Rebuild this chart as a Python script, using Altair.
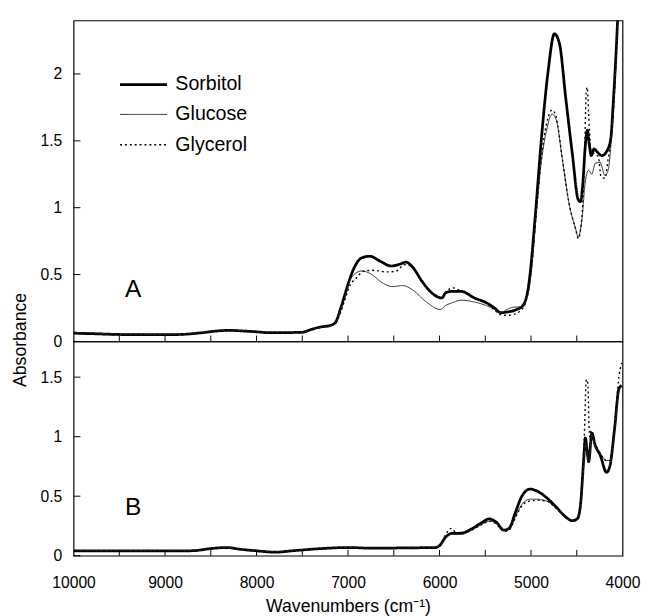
import altair as alt
import pandas as pd

SERIES = ["Sorbitol", "Glucose", "Glycerol"]

# ---------------- Panel A ----------------
a_sorbitol_wn = [10000, 9800, 9500, 9200, 9000, 8800, 8600, 8400, 8300, 8150, 8000, 7850, 7700, 7508,
                 7400, 7300, 7200, 7140, 7080, 7030, 6991, 6920, 6850, 6760, 6650, 6528, 6440, 6367,
                 6296, 6189, 6082, 5975, 5930, 5868, 5761, 5619, 5476, 5400, 5331, 5260, 5153, 5100,
                 5064, 5030, 5011, 4957, 4886, 4815, 4744, 4690, 4619, 4548, 4484, 4459, 4434, 4406,
                 4384, 4363, 4342, 4310, 4281, 4228, 4174, 4128, 4100, 4075, 4054, 4030]
a_sorbitol_ab = [0.062, 0.058, 0.052, 0.050, 0.050, 0.053, 0.065, 0.080, 0.083, 0.078, 0.072, 0.065, 0.066, 0.068,
                 0.090, 0.108, 0.118, 0.140, 0.250, 0.360, 0.447, 0.569, 0.625, 0.637, 0.600, 0.564, 0.576, 0.593,
                 0.557, 0.447, 0.361, 0.325, 0.365, 0.374, 0.374, 0.325, 0.285, 0.250, 0.215, 0.220, 0.240, 0.260,
                 0.300, 0.400, 0.500, 0.910, 1.520, 2.010, 2.300, 2.230, 1.810, 1.400, 1.060, 1.045, 1.180, 1.470,
                 1.580, 1.470, 1.390, 1.440, 1.420, 1.390, 1.420, 1.520, 1.800, 2.100, 2.400, 2.800]

a_glucose_wn = [10000, 9800, 9500, 9000, 8800, 8600, 8400, 8300, 8150, 8000, 7850, 7700, 7508,
                7400, 7300, 7200, 7140, 7080, 7030, 6991, 6920, 6848, 6759, 6617, 6510, 6403, 6296,
                6153, 5993, 5930, 5868, 5761, 5619, 5476, 5400, 5331, 5260, 5200, 5117, 5046, 4993,
                4940, 4886, 4833, 4769, 4726, 4655, 4584, 4512, 4484, 4441, 4406, 4370, 4335, 4300,
                4246, 4192, 4157, 4121, 4085, 4054, 4030]
a_glucose_ab = [0.068, 0.063, 0.055, 0.052, 0.055, 0.066, 0.080, 0.085, 0.080, 0.074, 0.068, 0.067, 0.068,
                0.088, 0.105, 0.115, 0.135, 0.240, 0.340, 0.435, 0.508, 0.527, 0.508, 0.435, 0.410, 0.418, 0.386,
                0.300, 0.239, 0.270, 0.288, 0.308, 0.295, 0.264, 0.240, 0.215, 0.240, 0.255, 0.260, 0.320, 0.540,
                0.980, 1.350, 1.570, 1.700, 1.660, 1.350, 1.030, 0.840, 0.780, 0.930, 1.200, 1.280, 1.250, 1.330,
                1.340, 1.240, 1.280, 1.520, 1.890, 2.400, 2.800]

a_glycerol_wn = [10000, 9500, 9000, 8800, 8600, 8400, 8300, 8150, 8000, 7850, 7700, 7508,
                 7400, 7300, 7200, 7140, 7080, 7030, 6991, 6902, 6831, 6723, 6581, 6474, 6385, 6296,
                 6189, 6082, 5975, 5930, 5850, 5761, 5619, 5476, 5400, 5331, 5260, 5200, 5117, 5064,
                 5030, 4993, 4940, 4886, 4833, 4769, 4726, 4655, 4584, 4512, 4484, 4441, 4415, 4395,
                 4385, 4370, 4345, 4300, 4263, 4235, 4192, 4160, 4121, 4085, 4054, 4030]
a_glycerol_ab = [0.060, 0.050, 0.050, 0.052, 0.063, 0.078, 0.082, 0.078, 0.072, 0.066, 0.066, 0.067,
                 0.088, 0.106, 0.116, 0.135, 0.220, 0.320, 0.400, 0.480, 0.525, 0.532, 0.520, 0.525, 0.574, 0.557,
                 0.447, 0.361, 0.325, 0.370, 0.400, 0.375, 0.325, 0.280, 0.235, 0.200, 0.195, 0.200, 0.230, 0.280,
                 0.400, 0.580, 0.980, 1.380, 1.620, 1.730, 1.680, 1.350, 1.030, 0.840, 0.770, 0.950, 1.400, 1.880,
                 1.900, 1.700, 1.430, 1.400, 1.380, 1.230, 1.220, 1.350, 1.550, 1.900, 2.400, 2.800]

# ---------------- Panel B ----------------
b_sorbitol_wn = [10000, 9500, 9000, 8700, 8500, 8328, 8185, 8000, 7793, 7615, 7294, 7000, 6724, 6367,
                 6046, 5993, 5940, 5868, 5761, 5650, 5545, 5455, 5385, 5295, 5240, 5170, 5100, 5010,
                 4940, 4833, 4726, 4620, 4550, 4495, 4460, 4424, 4406, 4388, 4370, 4335, 4300, 4246,
                 4174, 4139, 4085, 4040, 4010]
b_sorbitol_ab = [0.040, 0.040, 0.040, 0.042, 0.060, 0.069, 0.055, 0.041, 0.030, 0.041, 0.060, 0.069, 0.063, 0.066,
                 0.069, 0.090, 0.150, 0.187, 0.190, 0.225, 0.275, 0.310, 0.285, 0.215, 0.230, 0.366, 0.500, 0.560,
                 0.545, 0.490, 0.410, 0.325, 0.295, 0.310, 0.420, 0.810, 0.990, 0.890, 0.790, 1.030, 0.930, 0.850,
                 0.700, 0.750, 1.080, 1.400, 1.430]

b_glucose_wn = [10000, 9500, 9000, 8700, 8500, 8328, 8185, 8000, 7793, 7615, 7294, 7000, 6724, 6367,
                6046, 5993, 5940, 5868, 5761, 5650, 5545, 5455, 5385, 5295, 5240, 5170, 5100, 5010,
                4940, 4833, 4726, 4620, 4550, 4495, 4460, 4424, 4406, 4388, 4370, 4335, 4300, 4246,
                4174, 4139, 4085, 4040, 4010]
b_glucose_ab = [0.042, 0.042, 0.042, 0.044, 0.060, 0.068, 0.056, 0.043, 0.034, 0.043, 0.060, 0.068, 0.064, 0.066,
                0.069, 0.088, 0.140, 0.180, 0.180, 0.215, 0.260, 0.290, 0.275, 0.215, 0.220, 0.330, 0.430, 0.475,
                0.475, 0.460, 0.400, 0.320, 0.290, 0.300, 0.400, 0.780, 0.950, 0.850, 0.780, 1.020, 0.920, 0.860,
                0.800, 0.800, 1.060, 1.380, 1.420]

b_glycerol_wn = [10000, 9500, 9000, 8700, 8500, 8328, 8185, 8000, 7793, 7615, 7294, 7000, 6724, 6367,
                 6046, 5993, 5940, 5868, 5830, 5761, 5650, 5545, 5455, 5385, 5295, 5240, 5170, 5100, 5010,
                 4940, 4833, 4726, 4620, 4550, 4495, 4460, 4420, 4395, 4380, 4360, 4340, 4300, 4246,
                 4174, 4139, 4085, 4040, 4010]
b_glycerol_ab = [0.040, 0.040, 0.040, 0.042, 0.058, 0.067, 0.055, 0.042, 0.032, 0.042, 0.060, 0.068, 0.063, 0.066,
                 0.069, 0.090, 0.170, 0.230, 0.200, 0.190, 0.215, 0.260, 0.290, 0.270, 0.205, 0.215, 0.320, 0.420, 0.460,
                 0.465, 0.460, 0.400, 0.320, 0.290, 0.300, 0.450, 0.950, 1.480, 1.450, 1.000, 1.050, 0.950, 0.860,
                 0.800, 0.800, 1.100, 1.500, 1.620]

panel_names = ["A", "B"]
panel_label_wn = [9350, 9350]
panel_label_ab = [0.39, 0.41]

x_label_values = [10000, 9000, 8000, 7000, 6000, 5000, 4000]
x_tick_values = [9500, 9000, 8500, 8000, 7500, 7000, 6500, 6000, 5500, 5000, 4500]
a_y_values = [0, 0.5, 1, 1.5, 2]
b_y_values = [0, 0.5, 1, 1.5]


def frame(wn, ab, name):
    return pd.DataFrame({"wn": wn, "ab": ab, "series": name})


dfA = pd.concat([frame(a_sorbitol_wn, a_sorbitol_ab, "Sorbitol"),
                 frame(a_glucose_wn, a_glucose_ab, "Glucose"),
                 frame(a_glycerol_wn, a_glycerol_ab, "Glycerol")])
dfB = pd.concat([frame(b_sorbitol_wn, b_sorbitol_ab, "Sorbitol"),
                 frame(b_glucose_wn, b_glucose_ab, "Glucose"),
                 frame(b_glycerol_wn, b_glycerol_ab, "Glycerol")])

W, HA, HB = 561, 328, 219
FONT = "Liberation Sans"

xscale = alt.Scale(domain=[4000, 10000], reverse=True, nice=False, zero=False)
yscaleA = alt.Scale(domain=[0, 2.4], nice=False, zero=False)
yscaleB = alt.Scale(domain=[0, 1.8], nice=False, zero=False)

x_axis_A = None
x_axis_B = alt.Axis(values=x_label_values, format="d", labelFontSize=16, labelPadding=19,
                    labelFlush=False, labelOverlap=False, ticks=False, tickSize=0, domain=False,
                    grid=False, title="Wavenumbers (cm\u207b\u00b9)", titleFontSize=18,
                    titleFontWeight="normal", titlePadding=8)
y_axis_A = alt.Axis(values=a_y_values, format=".1~f", labelFontSize=16, labelPadding=12,
                    ticks=False, tickSize=0, domain=False, grid=False, title="Absorbance",
                    titleFontSize=18, titleFontWeight="normal", titleAngle=270,
                    titleX=-45, titleY=326, titleAlign="center", titleBaseline="bottom")
y_axis_B = alt.Axis(values=b_y_values, format=".1~f", labelFontSize=16, labelPadding=12,
                    ticks=False, tickSize=0, domain=False, grid=False, title=None)

dash_scale = alt.Scale(type="ordinal", domain=SERIES, range=[[1, 0], [1, 0], [2, 3]])
width_scale = alt.Scale(type="ordinal", domain=SERIES, range=[2.8, 1.0, 1.4])
color_scale = alt.Scale(type="ordinal", domain=SERIES, range=["#000000", "#2a2a2a", "#000000"])

legend = alt.Legend(orient="none", legendX=60, legendY=54, title=None,
                    symbolType="M-2.4,0H2.4", symbolSize=400,
                    symbolFillColor="transparent", labelFontSize=20, labelOffset=21,
                    rowPadding=9.5, padding=0, labelFont=FONT)


def lines(df, yscale, x_axis, y_axis, with_legend):
    leg = legend if with_legend else None
    return alt.Chart(df).mark_line(clip=True, interpolate="monotone").encode(
        x=alt.X("wn:Q", scale=xscale, axis=x_axis),
        y=alt.Y("ab:Q", scale=yscale, axis=y_axis),
        color=alt.Color("series:N", scale=color_scale, legend=leg),
        strokeDash=alt.StrokeDash("series:N", scale=dash_scale, legend=leg),
        strokeWidth=alt.StrokeWidth("series:N", scale=width_scale, legend=leg),
    )


def x_ticks(h, x_axis):
    return alt.Chart(pd.DataFrame({"wn": x_tick_values})).mark_rule(color="black", strokeWidth=1).encode(
        x=alt.X("wn:Q", scale=xscale, axis=x_axis),
        y=alt.value(h), y2=alt.value(h - 6),
    )


def y_ticks(vals, yscale, y_axis):
    return alt.Chart(pd.DataFrame({"ab": vals})).mark_rule(color="black", strokeWidth=1).encode(
        y=alt.Y("ab:Q", scale=yscale, axis=y_axis),
        x=alt.value(0), x2=alt.value(7),
    )


def panel_label(i, yscale, x_axis, y_axis):
    d = pd.DataFrame({"wn": [panel_label_wn[i]], "ab": [panel_label_ab[i]], "t": [panel_names[i]]})
    return alt.Chart(d).mark_text(fontSize=25, font=FONT, color="black").encode(
        x=alt.X("wn:Q", scale=xscale, axis=x_axis),
        y=alt.Y("ab:Q", scale=yscale, axis=y_axis),
        text="t:N",
    )


panelA = alt.layer(
    x_ticks(HA, x_axis_A), y_ticks(a_y_values, yscaleA, y_axis_A),
    panel_label(0, yscaleA, x_axis_A, y_axis_A),
    lines(dfA, yscaleA, x_axis_A, y_axis_A, True),
).properties(width=W, height=HA)

panelB = alt.layer(
    x_ticks(HB, x_axis_B), y_ticks(b_y_values, yscaleB, y_axis_B),
    panel_label(1, yscaleB, x_axis_B, y_axis_B),
    lines(dfB, yscaleB, x_axis_B, y_axis_B, False),
).properties(width=W, height=HB)

chart = alt.vconcat(panelA, panelB, spacing=0, bounds="flush").resolve_legend(
    color="independent", strokeDash="independent", strokeWidth="independent"
).properties(
    padding={"left": 3, "top": 5, "right": 5, "bottom": 0}
).configure(font=FONT).configure_view(stroke="black", strokeWidth=1.2).configure_axis(
    labelFont=FONT, titleFont=FONT, labelColor="black", titleColor="black",
    labelFontSize=16, titleFontSize=18, minExtent=0
)

chart.save("out.html", embed_options={"renderer": "svg", "actions": False})
